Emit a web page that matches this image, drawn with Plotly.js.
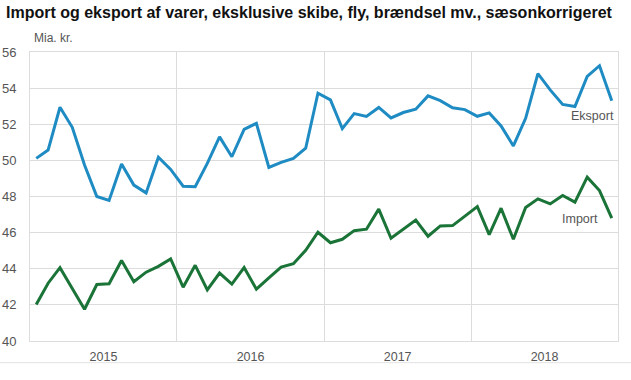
<!DOCTYPE html>
<html>
<head>
<meta charset="utf-8">
<script src="https://cdn.plot.ly/plotly-3.0.1.min.js"></script>
<style>html,body{margin:0;padding:0;background:#fff;}#chart{width:631px;height:380px;}</style>
</head>
<body>
<div id="chart"></div>
<script>
const years = [2015, 2016, 2017, 2018];
const months = [];
years.forEach(y => { for (let m = 1; m <= 12; m++) months.push(y + '-' + String(m).padStart(2, '0') + '-01'); });

const eksport = [50.11, 50.57, 52.94, 51.83, 49.74, 48.0, 47.78, 49.8, 48.63, 48.2, 50.17, 49.5,
                 48.57, 48.54, 49.83, 51.3, 50.2, 51.72, 52.05, 49.61, 49.89, 50.11, 50.67, 53.72,
                 53.35, 51.76, 52.59, 52.43, 52.93, 52.35, 52.65, 52.83, 53.57, 53.31, 52.91, 52.81,
                 52.44, 52.63, 51.91, 50.8, 52.33, 54.8, 53.9, 53.1, 52.98, 54.65, 55.24, 53.3];
const importData = [42.02, 43.2, 44.06, 42.93, 41.76, 43.13, 43.17, 44.46, 43.28, 43.81, 44.13, 44.54,
                 42.98, 44.19, 42.83, 43.76, 43.15, 44.07, 42.87, 43.5, 44.09, 44.28, 45.02, 46.02,
                 45.44, 45.63, 46.11, 46.19, 47.3, 45.69, 46.2, 46.7, 45.8, 46.37, 46.39, 46.89,
                 47.44, 45.89, 47.35, 45.63, 47.39, 47.87, 47.59, 48.06, 47.69, 49.07, 48.33, 46.8];
const seriesNames = ['Eksport', 'Import'];
const yTicks = [40, 42, 44, 46, 48, 50, 52, 54, 56];

const font = 'Liberation Sans, Arial, sans-serif';
const traces = [
  {x: months, y: eksport, name: seriesNames[0], type: 'scatter', mode: 'lines',
   xperiod: 'M1', xperiodalignment: 'middle',
   line: {color: '#1f8bc3', width: 3}},
  {x: months, y: importData, name: seriesNames[1], type: 'scatter', mode: 'lines',
   xperiod: 'M1', xperiodalignment: 'middle',
   line: {color: '#1a7337', width: 3}}
];

const layout = {
  width: 631, height: 380,
  margin: {l: 30, r: 13, t: 52, b: 39},
  paper_bgcolor: '#fff', plot_bgcolor: '#fff',
  showlegend: false,
  title: {text: 'Import og eksport af varer, eksklusive skibe, fly, brændsel mv., sæsonkorrigeret',
          font: {family: font, size: 16, color: '#111', weight: 'bold'},
          x: 6/631, xanchor: 'left', xref: 'container', y: 1 - 12/380, yanchor: 'middle', yref: 'container'},
  xaxis: {type: 'date', range: ['2015-01-01', '2019-01-01'], dtick: 'M12', tick0: '2015-01-01',
          ticklabelmode: 'period', tickformat: '%Y', showgrid: true, gridcolor: '#dcdcdc', gridwidth: 1,
          showline: true, linecolor: '#dcdcdc', mirror: true, zeroline: false, ticks: '',
          tickfont: {family: font, size: 12.5, color: '#555'}, ticklabelstandoff: 4},
  yaxis: {range: [40, 56], tickvals: yTicks, showgrid: true, gridcolor: '#dcdcdc', gridwidth: 1,
          showline: true, linecolor: '#dcdcdc', mirror: true, zeroline: false, ticks: '',
          tickfont: {family: font, size: 13, color: '#555'}, ticklabelstandoff: 10},
  annotations: [
    {text: 'Mia. kr.', xref: 'paper', yref: 'paper', x: 0, y: 1, xanchor: 'left', yanchor: 'bottom',
     xshift: 2, yshift: 5, showarrow: false, font: {family: font, size: 12, color: '#555'}},
    {text: seriesNames[0], xref: 'paper', yref: 'y', x: 1, y: 52.45, xanchor: 'right', yanchor: 'middle',
     xshift: -2, showarrow: false, font: {family: font, size: 12.5, color: '#555'}},
    {text: seriesNames[1], xref: 'paper', yref: 'y', x: 1, y: 46.75, xanchor: 'right', yanchor: 'middle',
     xshift: -18, showarrow: false, font: {family: font, size: 12.5, color: '#555'}}
  ],
  shapes: [
    {type: 'line', xref: 'paper', yref: 'paper', x0: -0.06, x1: 1.03, y0: -0.075, y1: -0.075,
     line: {color: '#e3e3e3', width: 1}}
  ]
};

Plotly.newPlot('chart', traces, layout, {displayModeBar: false, staticPlot: true});
</script>
</body>
</html>
